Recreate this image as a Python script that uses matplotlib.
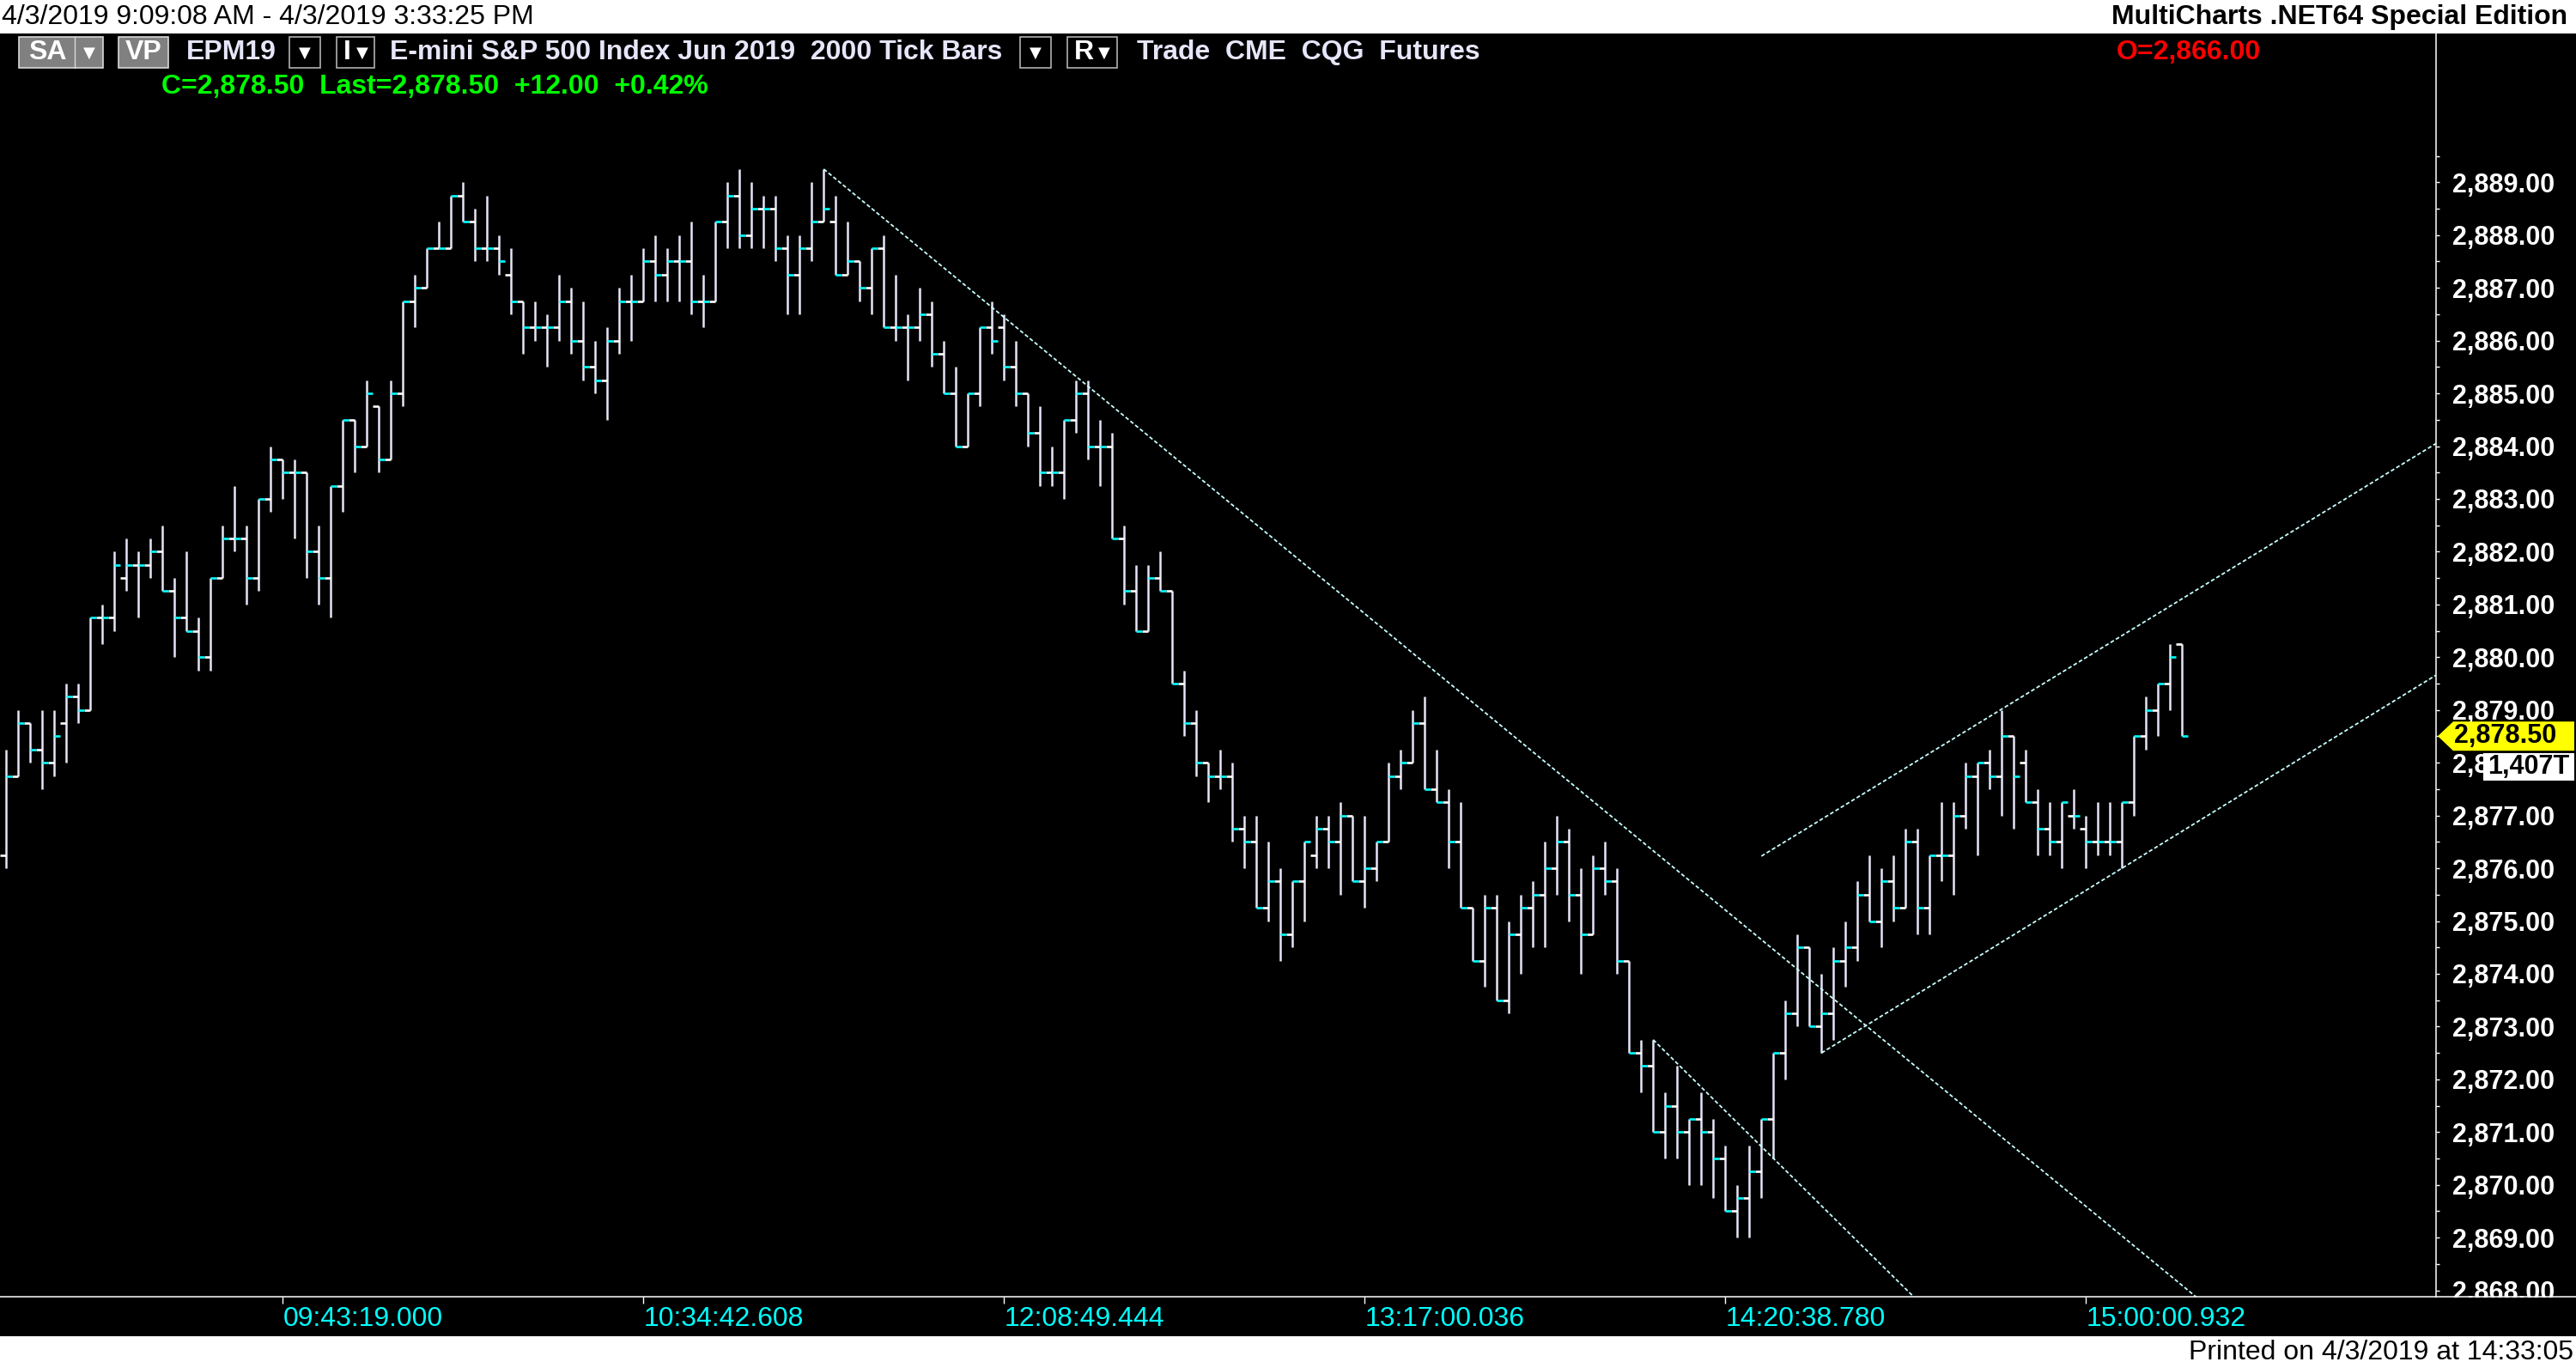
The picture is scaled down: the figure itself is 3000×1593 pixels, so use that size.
import numpy as np
import matplotlib.pyplot as plt
from matplotlib.patches import Rectangle, Polygon
from matplotlib.lines import Line2D

plt.rcParams['font.family'] = ['Liberation Sans', 'DejaVu Sans']

# ---------- datos: barras OHLC (2000 tick bars, EPM19) ----------
opens = [
    2876.25, 2877.75, 2878.75, 2878.25, 2878.0, 2878.75, 2879.25, 2879.0, 2880.75, 2880.75,
    2881.5, 2881.75, 2881.75, 2882.0, 2881.25, 2880.75, 2880.5, 2880.0, 2881.5, 2882.25,
    2882.25, 2881.5, 2883.0, 2883.75, 2883.5, 2883.5, 2882.0, 2881.5, 2883.25, 2884.5,
    2884.0, 2884.75, 2883.75, 2885.0, 2886.75, 2887.0, 2887.75, 2887.75, 2888.75, 2888.25,
    2887.75, 2887.75, 2887.25, 2886.75, 2886.25, 2886.25, 2886.25, 2886.75, 2886.0, 2885.5,
    2885.25, 2886.0, 2886.75, 2886.75, 2887.5, 2887.25, 2887.5, 2887.5, 2886.75, 2886.75,
    2888.25, 2888.75, 2888.0, 2888.5, 2888.5, 2887.75, 2887.25, 2887.75, 2888.25, 2888.25,
    2887.25, 2887.5, 2887.0, 2887.75, 2886.25, 2886.25, 2886.25, 2886.5, 2885.75, 2885.0,
    2884.0, 2885.0, 2886.25, 2886.25, 2885.5, 2885.0, 2884.25, 2883.5, 2883.5, 2884.5,
    2885.0, 2884.0, 2884.0, 2882.25, 2881.25, 2880.5, 2881.5, 2881.25, 2879.5, 2878.75,
    2878.0, 2877.75, 2877.75, 2876.75, 2876.5, 2875.25, 2875.75, 2874.75, 2875.75, 2876.25,
    2876.75, 2876.5, 2877.0, 2875.75, 2876.0, 2876.5, 2877.75, 2878.0, 2878.75, 2877.5,
    2877.25, 2876.5, 2875.25, 2874.25, 2875.25, 2873.5, 2874.75, 2875.25, 2875.5, 2876.0,
    2876.5, 2875.5, 2874.75, 2876.0, 2875.75, 2874.25, 2872.5, 2872.25, 2871.0, 2871.5,
    2871.0, 2871.25, 2871.0, 2870.5, 2869.5, 2869.75, 2870.25, 2871.25, 2872.5, 2873.25,
    2874.5, 2873.0, 2873.25, 2874.25, 2874.5, 2875.5, 2875.0, 2875.75, 2875.25, 2876.5,
    2875.25, 2876.25, 2876.25, 2877.0, 2877.75, 2878.0, 2877.75, 2878.5, 2878.0, 2877.25,
    2876.75, 2876.5, 2877.0, 2876.75, 2876.5, 2876.5, 2876.5, 2877.25, 2878.5, 2879.0,
    2879.5, 2880.25,
]
highs = [
    2878.25, 2879.0, 2878.75, 2879.0, 2879.0, 2879.5, 2879.5, 2880.75, 2881.0, 2882.0,
    2882.25, 2882.0, 2882.25, 2882.5, 2881.5, 2882.0, 2880.75, 2881.5, 2882.5, 2883.25,
    2882.5, 2883.0, 2884.0, 2883.75, 2883.75, 2883.5, 2882.5, 2883.25, 2884.5, 2884.5,
    2885.25, 2884.75, 2885.25, 2886.75, 2887.25, 2887.75, 2888.25, 2888.75, 2889.0, 2888.5,
    2888.75, 2888.0, 2887.75, 2886.75, 2886.75, 2886.5, 2887.25, 2887.0, 2886.75, 2886.0,
    2886.25, 2887.0, 2887.25, 2887.75, 2888.0, 2887.75, 2888.0, 2888.25, 2887.25, 2888.25,
    2889.0, 2889.25, 2889.0, 2888.75, 2888.75, 2888.0, 2888.0, 2889.0, 2889.25, 2888.75,
    2888.25, 2887.5, 2887.75, 2888.0, 2887.25, 2886.5, 2887.0, 2886.75, 2886.0, 2885.5,
    2885.0, 2886.25, 2886.75, 2886.5, 2886.0, 2885.0, 2884.75, 2884.0, 2884.5, 2885.25,
    2885.25, 2884.5, 2884.25, 2882.5, 2881.75, 2881.75, 2882.0, 2881.25, 2879.75, 2879.0,
    2878.0, 2878.25, 2878.0, 2877.0, 2877.0, 2876.5, 2876.0, 2875.75, 2876.5, 2877.0,
    2877.0, 2877.25, 2877.0, 2877.0, 2876.5, 2878.0, 2878.25, 2879.0, 2879.25, 2878.25,
    2877.5, 2877.25, 2875.25, 2875.5, 2875.5, 2875.0, 2875.5, 2875.75, 2876.5, 2877.0,
    2876.75, 2876.0, 2876.25, 2876.5, 2876.0, 2874.25, 2872.75, 2872.75, 2871.75, 2872.25,
    2871.25, 2871.75, 2871.25, 2870.75, 2870.0, 2870.75, 2871.25, 2872.5, 2873.5, 2874.75,
    2874.5, 2874.0, 2874.5, 2875.0, 2875.75, 2876.25, 2876.0, 2876.25, 2876.75, 2876.75,
    2876.25, 2877.25, 2877.25, 2878.0, 2878.0, 2878.25, 2879.0, 2878.5, 2878.25, 2877.5,
    2877.25, 2877.25, 2877.5, 2877.0, 2877.25, 2877.25, 2877.25, 2878.5, 2879.25, 2879.5,
    2880.25, 2880.25,
]
lows = [
    2876.0, 2877.75, 2878.0, 2877.5, 2877.75, 2878.0, 2878.75, 2879.0, 2880.25, 2880.5,
    2881.25, 2880.75, 2881.5, 2881.25, 2880.0, 2880.5, 2879.75, 2879.75, 2881.5, 2882.0,
    2881.0, 2881.25, 2882.75, 2883.0, 2882.25, 2881.5, 2881.0, 2880.75, 2882.75, 2883.5,
    2884.0, 2883.5, 2883.75, 2884.75, 2886.25, 2887.0, 2887.75, 2887.75, 2888.25, 2887.5,
    2887.5, 2887.25, 2886.5, 2885.75, 2886.0, 2885.5, 2886.0, 2885.75, 2885.25, 2885.0,
    2884.5, 2885.75, 2886.0, 2886.75, 2886.75, 2886.75, 2886.75, 2886.5, 2886.25, 2886.75,
    2887.75, 2887.75, 2887.75, 2887.75, 2887.5, 2886.5, 2886.5, 2887.5, 2888.25, 2887.25,
    2887.25, 2886.75, 2886.5, 2886.25, 2886.0, 2885.25, 2886.0, 2885.5, 2885.0, 2884.0,
    2884.0, 2884.75, 2885.75, 2885.25, 2884.75, 2884.0, 2883.25, 2883.25, 2883.0, 2884.25,
    2883.75, 2883.25, 2882.25, 2881.0, 2880.5, 2880.5, 2881.25, 2879.5, 2878.5, 2877.75,
    2877.25, 2877.5, 2876.5, 2876.0, 2875.25, 2875.0, 2874.25, 2874.5, 2875.0, 2876.0,
    2876.0, 2875.5, 2875.75, 2875.25, 2875.75, 2876.5, 2877.5, 2878.0, 2877.5, 2877.25,
    2876.0, 2875.25, 2874.25, 2873.75, 2873.5, 2873.25, 2874.0, 2874.5, 2874.5, 2875.5,
    2875.0, 2874.0, 2874.75, 2875.5, 2874.0, 2872.5, 2871.75, 2871.0, 2870.5, 2870.5,
    2870.0, 2870.0, 2869.75, 2869.5, 2869.0, 2869.0, 2869.75, 2870.5, 2872.0, 2873.0,
    2873.0, 2872.5, 2872.75, 2873.75, 2874.25, 2875.0, 2874.5, 2875.0, 2875.25, 2874.75,
    2874.75, 2875.75, 2875.5, 2876.75, 2876.25, 2877.5, 2877.0, 2876.75, 2877.25, 2876.25,
    2876.25, 2876.0, 2876.75, 2876.0, 2876.25, 2876.25, 2876.0, 2877.0, 2878.25, 2878.5,
    2879.0, 2878.5,
]
closes = [
    2877.75, 2878.75, 2878.25, 2878.0, 2878.5, 2879.25, 2879.0, 2880.75, 2880.75, 2881.75,
    2881.75, 2881.75, 2882.0, 2881.25, 2880.75, 2880.5, 2880.0, 2881.5, 2882.25, 2882.25,
    2881.5, 2883.0, 2883.75, 2883.5, 2883.5, 2882.0, 2881.5, 2883.25, 2884.5, 2884.0,
    2885.0, 2883.75, 2885.0, 2886.75, 2887.0, 2887.75, 2887.75, 2888.75, 2888.25, 2887.75,
    2887.75, 2887.5, 2886.75, 2886.25, 2886.25, 2886.25, 2886.75, 2886.0, 2885.5, 2885.25,
    2886.0, 2886.75, 2886.75, 2887.5, 2887.25, 2887.5, 2887.5, 2886.75, 2886.75, 2888.25,
    2888.75, 2888.0, 2888.5, 2888.5, 2887.75, 2887.25, 2887.75, 2888.25, 2888.5, 2887.25,
    2887.5, 2887.0, 2887.75, 2886.25, 2886.25, 2886.25, 2886.5, 2885.75, 2885.0, 2884.0,
    2885.0, 2886.25, 2886.0, 2885.5, 2885.0, 2884.25, 2883.5, 2883.5, 2884.5, 2885.0,
    2884.0, 2884.0, 2882.25, 2881.25, 2880.5, 2881.5, 2881.25, 2879.5, 2878.75, 2878.0,
    2877.75, 2877.75, 2876.75, 2876.5, 2875.25, 2875.75, 2874.75, 2875.75, 2876.5, 2876.75,
    2876.5, 2877.0, 2875.75, 2876.0, 2876.5, 2877.75, 2878.0, 2878.75, 2877.5, 2877.25,
    2876.5, 2875.25, 2874.25, 2875.25, 2873.5, 2874.75, 2875.25, 2875.5, 2876.0, 2876.5,
    2875.5, 2874.75, 2876.0, 2875.75, 2874.25, 2872.5, 2872.25, 2871.0, 2871.5, 2871.0,
    2871.25, 2871.0, 2870.5, 2869.5, 2869.75, 2870.25, 2871.25, 2872.5, 2873.25, 2874.5,
    2873.0, 2873.25, 2874.25, 2874.5, 2875.5, 2875.0, 2875.75, 2875.25, 2876.5, 2875.25,
    2876.25, 2876.25, 2877.0, 2877.75, 2878.0, 2877.75, 2878.5, 2877.75, 2877.25, 2876.75,
    2876.5, 2877.25, 2877.0, 2876.5, 2876.5, 2876.5, 2877.25, 2878.5, 2879.0, 2879.5,
    2880.0, 2878.5,
]

# ejes
time_ticks = [23, 53, 83, 113, 143, 173]
time_labels = ['09:43:19.000', '10:34:42.608', '12:08:49.444',
               '13:17:00.036', '14:20:38.780', '15:00:00.932']
price_ticks = list(range(2868, 2890))

# lineas de tendencia (barra, precio)
down_line = [(68, 2889.25), (183.0, 2867.72)]
short_line = [(137, 2872.75), (160, 2867.58)]
chan_upper = [(146, 2876.23), (202.12, 2884.05)]
chan_lower = [(151, 2872.5), (202.12, 2879.66)]

last_price = 2878.50
tick_count = '1,407T'
# ---------------------------------------------------------------

W, H = 3000, 1593
def fx(px): return px / W
def fy(py): return 1 - py / H

fig = plt.figure(figsize=(W / 100, H / 100), dpi=100)
fig.patch.set_facecolor('white')
fig.add_artist(Rectangle((0, fy(1556)), 1, (1556 - 39) / H, transform=fig.transFigure,
                         facecolor='black', edgecolor='none', zorder=-1))

ax = fig.add_axes([0, fy(1510), fx(2837), (1510 - 39) / H])
ax.set_facecolor('black')
ax.set_xlim(-7.3 / 14, (2837 - 7.3) / 14)
ax.set_ylim(2867.88, 2891.82)

idx = np.arange(len(closes))
ax.vlines(idx, lows, highs, colors='#e6e6f8', lw=1.8)
ax.hlines(opens, idx - 0.5, idx, colors='white', lw=1.9)
ax.hlines(closes, idx, idx + 0.5, colors='#00ffff', lw=1.9)

for ln in (down_line, short_line, chan_upper, chan_lower):
    (x0, y0), (x1, y1) = ln
    ax.plot([x0, x1], [y0, y1], color='#c8ffff', lw=1.3, dashes=(2.5, 1.5))

for s in ('top', 'left', 'bottom'):
    ax.spines[s].set_visible(False)
ax.spines['right'].set_color('white')
ax.spines['right'].set_linewidth(1.1)

ax.yaxis.tick_right()
ax.set_yticks(price_ticks, labels=[f'{v:,.2f}' for v in price_ticks],
              fontweight='bold', fontsize=22)
ax.set_yticks([v + 0.5 for v in price_ticks], minor=True)
ax.tick_params(axis='y', which='both', colors='white', length=3, width=1, pad=11)

ax.set_xticks(time_ticks, labels=time_labels, ha='left', fontsize=23)
ax.tick_params(axis='x', color='white', labelcolor='#00ffff', length=5.8, width=1, pad=2)

# recorte bajo el eje de precios y linea inferior
fig.add_artist(Rectangle((fx(2837), fy(1556)), 1 - fx(2837), (1556 - 1511) / H,
                         transform=fig.transFigure, facecolor='black', edgecolor='none', zorder=5))
fig.add_artist(Line2D([0, 1], [fy(1510), fy(1510)], transform=fig.transFigure,
                      color='white', lw=1.1, zorder=6))

# etiqueta del ultimo precio (tapa en parte la etiqueta 2,878.00 como en el original)
lp_y = 212 + (2889 - last_price) * 61.45
fig.add_artist(Polygon([(fx(2839), fy(lp_y)), (fx(2857), fy(lp_y - 17)), (fx(2998), fy(lp_y - 17)),
                        (fx(2998), fy(lp_y + 17)), (fx(2857), fy(lp_y + 17))],
                       closed=True, transform=fig.transFigure, facecolor='#ffff00',
                       edgecolor='none', zorder=7))
fig.text(fx(2858), fy(lp_y), f'{last_price:,.2f}', ha='left', va='center',
         fontsize=22, fontweight='bold', color='black', zorder=8)
fig.add_artist(Rectangle((fx(2892), fy(909)), fx(2998) - fx(2892), 32 / H,
                         transform=fig.transFigure, facecolor='white', edgecolor='none', zorder=7))
fig.text(fx(2945), fy(893), tick_count, ha='center', va='center',
         fontsize=22, fontweight='bold', color='black', zorder=8)

# cabecera
fig.text(fx(2), fy(20), '4/3/2019 9:09:08 AM - 4/3/2019 3:33:25 PM', ha='left', va='center',
         fontsize=23, color='black')
fig.text(fx(2990), fy(20), 'MultiCharts .NET64 Special Edition', ha='right', va='center',
         fontsize=23, fontweight='bold', color='black')

def boton(x0, x1, gris):
    fc = '#808080' if gris else 'black'
    ec = '#d8d8d8' if gris else '#b0b0b0'
    fig.add_artist(Rectangle((fx(x0), fy(79)), fx(x1) - fx(x0), 36 / H, transform=fig.transFigure,
                             facecolor=fc, edgecolor=ec, lw=1.2, zorder=3))

def flecha(x):
    fig.text(fx(x), fy(62), '▼', ha='center', va='center', fontsize=13,
             color='white', family='DejaVu Sans', zorder=4)

boton(22, 120, True)
fig.add_artist(Line2D([fx(87), fx(87)], [fy(79), fy(43)], transform=fig.transFigure,
                      color='#d8d8d8', lw=1, zorder=4))
fig.text(fx(55), fy(61), 'SA', ha='center', va='center', fontsize=23,
         fontweight='bold', color='white', zorder=4)
flecha(104)
boton(138, 196, True)
fig.text(fx(167), fy(61), 'VP', ha='center', va='center', fontsize=23,
         fontweight='bold', color='white', zorder=4)
fig.text(fx(217), fy(61), 'EPM19', ha='left', va='center', fontsize=23,
         fontweight='bold', color='#e6e6fa')
boton(337, 373, False)
flecha(355)
boton(392, 436, False)
fig.text(fx(404), fy(61), 'I', ha='center', va='center', fontsize=23,
         fontweight='bold', color='white', zorder=4)
flecha(422)
fig.text(fx(454), fy(61), 'E-mini S&P 500 Index Jun 2019  2000 Tick Bars', ha='left',
         va='center', fontsize=23, fontweight='bold', color='#e6e6fa')
boton(1188, 1224, False)
flecha(1206)
boton(1243, 1301, False)
fig.text(fx(1262), fy(61), 'R', ha='center', va='center', fontsize=23,
         fontweight='bold', color='white', zorder=4)
flecha(1286)
fig.text(fx(1324), fy(61), 'Trade  CME  CQG  Futures', ha='left', va='center',
         fontsize=23, fontweight='bold', color='#e6e6fa')
fig.text(fx(2465), fy(61), 'O=2,866.00', ha='left', va='center', fontsize=23,
         fontweight='bold', color='#ff0000')
fig.text(fx(188), fy(101), 'C=2,878.50  Last=2,878.50  +12.00  +0.42%', ha='left',
         va='center', fontsize=23, fontweight='bold', color='#00ff00')

fig.text(fx(2997), fy(1575), 'Printed on 4/3/2019 at 14:33:05', ha='right', va='center',
         fontsize=23, color='black')

fig.savefig('out.png', dpi=100, facecolor=fig.get_facecolor())
